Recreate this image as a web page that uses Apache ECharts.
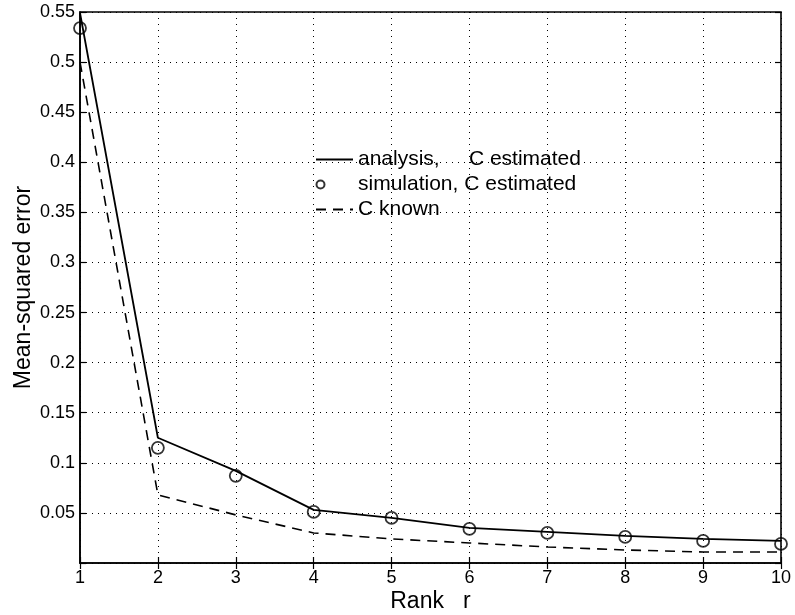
<!DOCTYPE html>
<html>
<head>
<meta charset="utf-8">
<script src="https://cdn.jsdelivr.net/npm/echarts@6/dist/echarts.min.js"></script>
<style>
  html, body { margin: 0; padding: 0; background: #fff; }
  #chart { width: 795px; height: 615px; }
</style>
</head>
<body>
<div id="chart"></div>
<script>
const ranks = [1, 2, 3, 4, 5, 6, 7, 8, 9, 10];
const analysisEst = [0.549, 0.125, 0.092, 0.053, 0.045, 0.035, 0.031, 0.027, 0.024, 0.022];
const simulationEst = [0.534, 0.115, 0.087, 0.051, 0.045, 0.034, 0.030, 0.026, 0.022, 0.019];
const cKnown = [0.500, 0.068, 0.048, 0.030, 0.024, 0.020, 0.016, 0.013, 0.011, 0.011];

const names = ['analysis,     C estimated', 'simulation, C estimated', 'C known'];
const font = 'Liberation Sans, Arial, Helvetica, sans-serif';

const chart = echarts.init(document.getElementById('chart'), null, { renderer: 'canvas' });

const pairs = (ys) => ranks.map((r, i) => [r, ys[i]]);

const tickStyle = { show: true, inside: true, length: 6, lineStyle: { color: '#000', width: 1.2 } };
const gridDots = { show: true, lineStyle: { color: '#000', type: [1, 5], width: 1 } };

chart.setOption({
    backgroundColor: '#fff',
    animation: false,
    grid: {
        left: 80, right: 14, top: 12, bottom: 52,
        outerBoundsMode: 'none',
        show: true, borderColor: '#000', borderWidth: 1.6
    },
    legend: {
        left: 315,
        top: 149,
        padding: 0,
        orient: 'vertical',
        itemWidth: 37,
        itemHeight: 12,
        itemGap: 4,
        data: [
            { name: names[0], itemStyle: { opacity: 0 } },
            // small "o" at the left of the swatch, like the original key
            { name: names[1], icon: 'path://M1,6a4,4 0 1,1 8,0a4,4 0 1,1 -8,0M37,0M37,12' },
            { name: names[2], itemStyle: { opacity: 0 } }
        ],
        textStyle: { fontFamily: font, fontSize: 21, color: '#000' }
    },
    xAxis: [
        {
            type: 'value', min: 1, max: 10, interval: 1,
            name: 'Rank   r', nameLocation: 'middle', nameGap: 27, nameMoveOverlap: false,
            nameTextStyle: { fontFamily: font, fontSize: 23, color: '#000', verticalAlign: 'top' },
            axisLine: { show: true, lineStyle: { color: '#000', width: 1.6 } },
            axisTick: tickStyle,
            axisLabel: { fontFamily: font, fontSize: 18, color: '#000', margin: 6 },
            splitLine: gridDots
        },
        {
            type: 'value', min: 1, max: 10, interval: 1, position: 'top',
            axisLine: { show: false }, axisTick: tickStyle, axisLabel: { show: false }, splitLine: { show: false }
        }
    ],
    yAxis: [
        {
            type: 'value', min: 0, max: 0.55, interval: 0.05,
            name: 'Mean-squared error', nameLocation: 'middle', nameGap: 45, nameRotate: 90, nameMoveOverlap: false,
            nameTextStyle: { fontFamily: font, fontSize: 23, color: '#000' },
            axisLine: { show: true, lineStyle: { color: '#000', width: 1.6 } },
            axisTick: tickStyle,
            axisLabel: {
                fontFamily: font, fontSize: 18, color: '#000', margin: 5,
                formatter: (v) => (v === 0 ? '' : String(+v.toFixed(2)))
            },
            splitLine: gridDots
        },
        {
            type: 'value', min: 0, max: 0.55, interval: 0.05, position: 'right',
            axisLine: { show: false }, axisTick: tickStyle, axisLabel: { show: false }, splitLine: { show: false }
        }
    ],
    series: [
        {
            name: names[0], type: 'line', symbol: 'none',
            lineStyle: { color: '#000', width: 1.8 },
            itemStyle: { color: '#000' },
            data: pairs(analysisEst)
        },
        {
            name: names[1], type: 'scatter', symbol: 'circle', symbolSize: 12,
            itemStyle: { color: 'rgba(0,0,0,0)', borderColor: '#000', borderWidth: 1.8 },
            data: pairs(simulationEst)
        },
        {
            name: names[2], type: 'line', symbol: 'none',
            lineStyle: { color: '#000', width: 1.6, type: [10, 7] },
            itemStyle: { color: '#000' },
            data: pairs(cKnown)
        }
    ]
});
</script>
</body>
</html>
